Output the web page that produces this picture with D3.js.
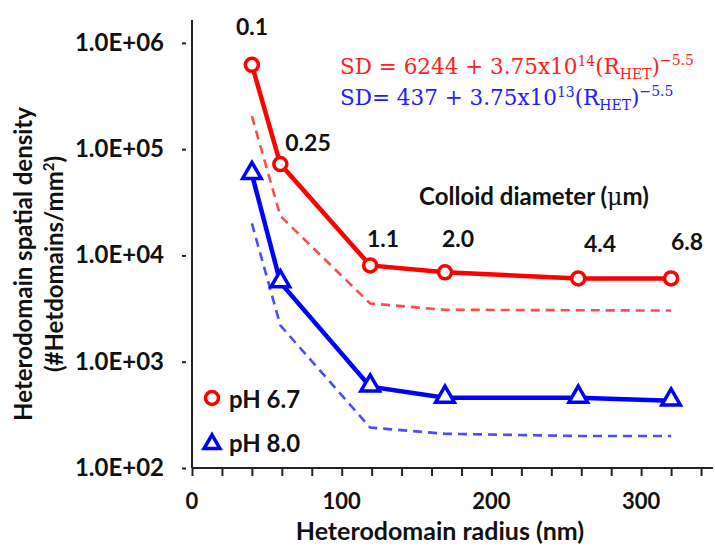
<!DOCTYPE html>
<html>
<head>
<meta charset="utf-8">
<script src="https://cdn.jsdelivr.net/npm/d3@7"></script>
<style>
  body { margin: 0; background: #fff; }
  text { font-family: Lato, "Open Sans", sans-serif; fill: #111; }
  .eq { font-family: "DejaVu Serif", "Liberation Serif", serif; }
</style>
</head>
<body>
<svg id="chart" width="715" height="546"></svg>
<script>
// data
const radius = [40, 59, 119, 169, 258, 320];
const ph67 = [621000, 72300, 8050, 6930, 6080, 6080];
const ph80 = [58200, 5570, 582, 458, 458, 430];
const fit67 = [204000, 23500, 3530, 3080, 3050, 3030];
const fit80 = [20000, 2200, 240, 210, 200, 200];
const diameterLabels = ['0.1', '0.25', '1.1', '2.0', '4.4', '6.8'];
const yTicks = [1e2, 1e3, 1e4, 1e5, 1e6];
const xTicks = [0, 100, 200, 300];

const svg = d3.select('#chart');
const m = { left: 192, top: 20, right: 2, bottom: 78 };
const W = 715, H = 546;

const x = d3.scaleLinear().domain([0, 348]).range([m.left, W - m.right]);
const y = d3.scaleLog().domain([100, Math.pow(10, 6.215)]).range([H - m.bottom, m.top]);

// axes
const xAxis = svg.append('g')
  .attr('transform', `translate(0,${H - m.bottom})`)
  .call(d3.axisBottom(x).tickValues(d3.range(0, 341, 20)).tickSize(8).tickFormat(''));
xAxis.select('.domain').attr('d', `M${x(0)},0H${W - 2}`);
xAxis.selectAll('line, path').attr('stroke', '#222').attr('stroke-width', 2);

svg.append('g').selectAll('text')
  .data(xTicks)
  .enter().append('text')
  .attr('x', d => x(d))
  .attr('y', 509)
  .attr('text-anchor', 'middle')
  .attr('font-size', 22).attr('font-weight', 'bold')
  .text(d => d);

const minor = [];
for (let e = 2; e <= 6; e++) {
  for (let k = 1; k <= 9; k++) {
    const v = k * Math.pow(10, e);
    if (v <= y.domain()[1]) minor.push(v);
  }
}
const yAxis = svg.append('g')
  .attr('transform', `translate(${m.left},0)`)
  .call(d3.axisLeft(y).tickValues(minor).tickSize(6).tickFormat(''));
yAxis.selectAll('.tick line').attr('x1', d => yTicks.includes(d) ? -10 : -6);
yAxis.selectAll('line, path').attr('stroke', '#222').attr('stroke-width', 2);
yAxis.select('.domain').attr('d', `M0,${m.top}V${H - m.bottom}`);

svg.append('g').selectAll('text')
  .data(yTicks)
  .enter().append('text')
  .attr('x', 164)
  .attr('y', d => y(d) + 8)
  .attr('text-anchor', 'end')
  .attr('font-size', 24).attr('font-weight', 'bold')
  .text(d => '1.0E+0' + Math.log10(d).toFixed(0));

// axis titles
svg.append('text')
  .attr('x', 440).attr('y', 540)
  .attr('text-anchor', 'middle')
  .attr('font-size', 25).attr('font-weight', 'bold')
  .text('Heterodomain radius (nm)');

const yt = svg.append('g').attr('transform', 'translate(0,264) rotate(-90)');
yt.append('text')
  .attr('x', 0).attr('y', 32)
  .attr('text-anchor', 'middle')
  .attr('font-size', 24).attr('font-weight', 'bold')
  .text('Heterodomain spatial density');
const yt2 = yt.append('text')
  .attr('x', 0).attr('y', 63)
  .attr('text-anchor', 'middle')
  .attr('font-size', 24).attr('font-weight', 'bold');
yt2.append('tspan').text('(#Hetdomains/mm');
yt2.append('tspan').attr('dy', -9).attr('font-size', 15).text('2');
yt2.append('tspan').attr('dy', 9).text(')');

// lines
const line = d3.line().x((d, i) => x(radius[i])).y(d => y(d));

svg.append('path').datum(fit67).attr('d', line)
  .attr('fill', 'none').attr('stroke', '#ff4b4b').attr('stroke-width', 2.6)
  .attr('stroke-dasharray', '9,6');
svg.append('path').datum(fit80).attr('d', line)
  .attr('fill', 'none').attr('stroke', '#4b4bff').attr('stroke-width', 2.6)
  .attr('stroke-dasharray', '9,6');

svg.append('path').datum(ph67).attr('d', line)
  .attr('fill', 'none').attr('stroke', '#ff0000').attr('stroke-width', 4.5);
svg.append('path').datum(ph80).attr('d', line)
  .attr('fill', 'none').attr('stroke', '#0000ff').attr('stroke-width', 4.5);

const tri = d3.symbol().type(d3.symbolTriangle).size(150);

svg.append('g').selectAll('circle')
  .data(ph67)
  .enter().append('circle')
  .attr('cx', (d, i) => x(radius[i]))
  .attr('cy', d => y(d))
  .attr('r', 6.5)
  .attr('fill', '#fff').attr('stroke', '#ff0000').attr('stroke-width', 3.5);

svg.append('g').selectAll('path')
  .data(ph80)
  .enter().append('path')
  .attr('d', tri)
  .attr('transform', (d, i) => `translate(${x(radius[i])},${y(d) - 1})`)
  .attr('fill', '#fff').attr('stroke', '#0000ff').attr('stroke-width', 3.5);

// colloid diameter labels
const labelPos = [[252, 35], [308, 151], [383, 247], [458, 247], [600, 252], [687, 250]];
svg.append('g').selectAll('text')
  .data(diameterLabels)
  .enter().append('text')
  .attr('x', (d, i) => labelPos[i][0])
  .attr('y', (d, i) => labelPos[i][1])
  .attr('text-anchor', 'middle')
  .attr('font-size', 23).attr('font-weight', 'bold')
  .text(d => d);

const cd = svg.append('text')
  .attr('x', 534).attr('y', 205)
  .attr('text-anchor', 'middle')
  .attr('font-size', 24).attr('font-weight', 'bold');
cd.append('tspan').text('Colloid diameter (');
cd.append('tspan').attr('class', 'eq').attr('font-weight', 'normal').text('\u03bc');
cd.append('tspan').text('m)');

// fit equations
function equation(yPos, color, a, b, sep) {
  const t = svg.append('text').attr('class', 'eq')
    .attr('x', 340).attr('y', yPos)
    .style('fill', color).attr('font-size', 21.5);
  t.append('tspan').text(`SD${sep}= ${a} + 3.75x10`);
  t.append('tspan').attr('dy', -8).attr('font-size', 14).text(b);
  t.append('tspan').attr('dy', 8).text('(R');
  t.append('tspan').attr('dy', 5).attr('font-size', 14).text('HET');
  t.append('tspan').attr('dy', -5).text(')');
  t.append('tspan').attr('dy', -9).attr('font-size', 14).text('\u22125.5');
}
equation(74, '#ff2020', '6244', '14', ' ');
equation(105, '#2020ff', '437', '13', '');

// legend
svg.append('circle').attr('cx', 212).attr('cy', 398).attr('r', 6.5)
  .attr('fill', '#fff').attr('stroke', '#ff0000').attr('stroke-width', 3.5);
svg.append('path').attr('d', d3.symbol().type(d3.symbolTriangle).size(110))
  .attr('transform', 'translate(212,444)')
  .attr('fill', '#fff').attr('stroke', '#0000ff').attr('stroke-width', 3.5);
svg.append('text').attr('x', 229).attr('y', 408)
  .attr('font-size', 24).attr('font-weight', 'bold').text('pH 6.7');
svg.append('text').attr('x', 229).attr('y', 452)
  .attr('font-size', 24).attr('font-weight', 'bold').text('pH 8.0');
</script>
</body>
</html>
